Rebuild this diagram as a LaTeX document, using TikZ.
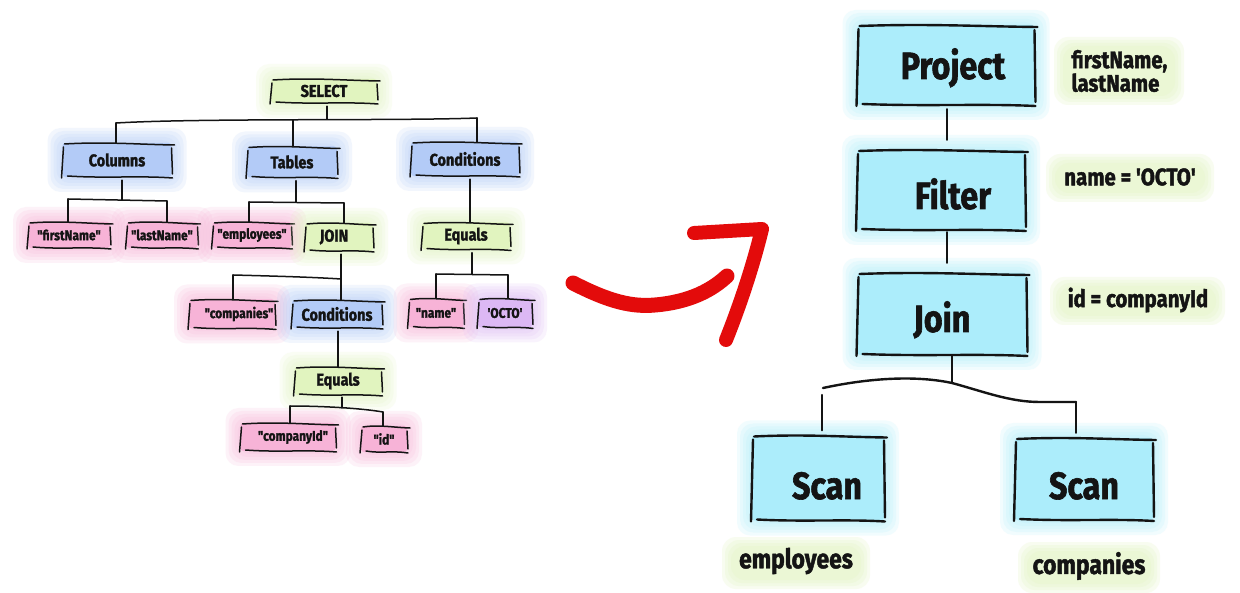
\documentclass[tikz,border=0pt]{standalone}
\usepackage{fontspec}
\newfontfamily\hand{Fira Sans}[FakeStretch=0.85, BoldFeatures={FakeBold=1.6}]
\usetikzlibrary{calc}
\definecolor{blueF}{HTML}{B3CBF7}
\definecolor{pinkF}{HTML}{F7B3D7}
\definecolor{greenF}{HTML}{E1F4BF}
\definecolor{purpF}{HTML}{DCB8F4}
\definecolor{cyanF}{HTML}{ACEDFB}
\definecolor{inkC}{HTML}{141414}
\definecolor{redA}{HTML}{E30B0B}
\tikzset{
 lt/.style={font=\hand\bfseries\fontsize{17}{19}\selectfont, text=inkC},
 ls/.style={font=\hand\bfseries\fontsize{14}{16}\selectfont, text=inkC},
 rt/.style={font=\hand\bfseries\fontsize{38}{42}\selectfont, text=inkC},
 side/.style={font=\hand\bfseries\fontsize{24}{22}\selectfont, text=inkC},
 side2/.style={font=\hand\bfseries\fontsize{27}{30}\selectfont, text=inkC},
 skl/.style={draw=inkC, line width=1.5pt, line cap=round},
 arrowstroke/.style={draw=redA, line cap=round, line join=round},
}
\newcommand\glow[5]{%
 \foreach \ee in {15,12,9,6,3}{\fill[#1,opacity=0.16,rounded corners=13pt] ({#2-\ee},{#3-\ee}) rectangle ({#4+\ee},{#5+\ee});}%
 \fill[#1,rounded corners=3pt] (#2,#3) rectangle (#4,#5);}
\newcommand\lglow[5]{\foreach \ee in {10,7,4,1}{\fill[#1,opacity=0.22,rounded corners=14pt] ({#2-\ee},{#3-\ee}) rectangle ({#4+\ee},{#5+\ee});}}
\newcommand\low[2]{\raisebox{-#1pt}[0pt][0pt]{#2}}
\newcommand\bx[8]{%
 \pgfmathsetmacro\xa{#2-#4/2}\pgfmathsetmacro\xb{#2+#4/2}%
 \pgfmathsetmacro\ya{#3-#5/2}\pgfmathsetmacro\yb{#3+#5/2}%
 \glow{#6}{\xa}{\ya}{\xb}{\yb}%
 \node[#7,minimum width=#4,minimum height=#5,inner sep=0pt] (#1) at (#2,#3) {#8};%
 \draw[skl] (\xa+2,\ya+1) .. controls (\xa+#4*0.4,\ya-1.5) and (\xa+#4*0.7,\ya+1.5) .. (\xb+3,\ya+2);%
 \draw[skl] (\xa+5,\yb-1) .. controls (\xa+#4*0.4,\yb+1.5) and (\xa+#4*0.7,\yb-1.5) .. (\xb+1,\yb+1);%
 \draw[skl] (\xa+1,\ya+4) -- (\xa-1,\yb+1);%
 \draw[skl] (\xb,\ya+5) -- (\xb+1,\yb-3);%
}
\begin{document}
\begin{tikzpicture}[x=1pt,y=-1pt]
\useasboundingbox (0,0) rectangle (1240,593);
\fill[white] (0,0) rectangle (1240,593);

% ---------------- left tree ----------------
\bx{select}{324}{91}{106}{24}{greenF}{lt}{SELECT}
\bx{columns}{117}{160}{109}{34}{blueF}{lt}{Columns}
\bx{tables}{292}{162}{90}{31}{blueF}{lt}{Tables}
\bx{conds}{465}{159}{108}{34}{blueF}{lt}{Conditions}
\bx{fname}{69}{235}{82}{26}{pinkF}{ls}{"firstName"}
\bx{lname}{162}{235}{71}{26}{pinkF}{ls}{"lastName"}
\bx{emps}{252}{235}{79}{26}{pinkF}{ls}{"employees"}
\bx{join}{339}{237}{68}{28}{greenF}{lt}{\hspace*{-10pt}JOIN}
\bx{eq}{466}{236}{88}{27}{greenF}{lt}{Equals}
\bx{comps}{232}{314}{86}{29}{pinkF}{ls}{\hspace*{14pt}"companies"}
\bx{conds2}{337}{314}{90}{28}{blueF}{lt}{Conditions}
\bx{name}{436}{313}{55}{29}{pinkF}{ls}{"name"}
\bx{octo}{505}{313}{54}{29}{purpF}{ls}{'OCTO'}
\bx{eq2}{338}{381}{87}{28}{greenF}{lt}{Equals}
\bx{cid}{288}{437}{95}{28}{pinkF}{ls}{\hspace*{10pt}"companyId"}
\bx{idn}{384}{439}{46}{26}{pinkF}{ls}{"id"}

% connectors left
\coordinate (sj) at (327,119);
\coordinate (sL) at (116,123);
\coordinate (sM) at (293,120);
\coordinate (sR) at (477,118);
\draw[skl] ($(sj |- select.south)+(0,3)$) -- (sj);
\draw[skl] (sL) .. controls (200,118) and (400,121) .. (sR);
\draw[skl] (sL) -- (sL |- columns.north);
\draw[skl] (sM) -- (sM |- tables.north);
\draw[skl] (sR) -- (sR |- conds.north);

\coordinate (cj) at (122,200);
\coordinate (cL) at (68,199);
\coordinate (cR) at (167,201);
\draw[skl] ($(cj |- columns.south)+(0,3)$) -- (cj);
\draw[skl] (cL) -- (cR);
\draw[skl] (cL) -- (cL |- fname.north);
\draw[skl] (cR) -- (cR |- lname.north);

\coordinate (tj) at (296,202);
\coordinate (tL) at (249,202);
\coordinate (tR) at (344,203);
\draw[skl] ($(tj |- tables.south)+(0,3)$) -- (tj);
\draw[skl] (tL) -- (tR);
\draw[skl] (tL) -- (tL |- emps.north);
\draw[skl] (tR) -- (tR |- join.north);

\coordinate (kx) at (470,0);
\draw[skl] ($(kx |- conds.south)+(0,3)$) -- (kx |- eq.north);

\coordinate (ej) at (472,274);
\coordinate (eL) at (436,274);
\coordinate (eR) at (508,275);
\draw[skl] ($(ej |- eq.south)+(0,3)$) -- (ej);
\draw[skl] (eL) -- (eR);
\draw[skl] (eL) -- (eL |- name.north);
\draw[skl] (eR) -- (eR |- octo.north);

\coordinate (jL) at (233,275);
\coordinate (jR) at (341,279);
\draw[skl] ($(jR |- join.south)+(0,3)$) -- (jR);
\draw[skl] (jL) .. controls (270,276) and (310,277) .. (jR);
\draw[skl] (jL) -- (jL |- comps.north);
\draw[skl] (jR) -- (jR |- conds2.north);

\coordinate (mx) at (338,0);
\draw[skl] ($(mx |- conds2.south)+(0,3)$) -- (mx |- eq2.north);

\coordinate (qj) at (342,408);
\coordinate (qL) at (290,406);
\coordinate (qR) at (383,412);
\draw[skl] ($(qj |- eq2.south)+(0,2)$) -- (qj);
\draw[skl] (qL) .. controls (320,406) and (360,408) .. (qR);
\draw[skl] (qL) -- (qL |- cid.north);
\draw[skl] (qR) -- (qR |- idn.north);

% ---------------- red arrow ----------------
\coordinate (a1) at (573,283);
\coordinate (a2) at (655,305);
\coordinate (a3) at (727,276);
\coordinate (h1) at (694,233);
\coordinate (h2) at (762,229);
\coordinate (h3) at (726,340);
\draw[arrowstroke, line width=15pt] (a1) .. controls (610,302) and (632,307) .. (a2) .. controls (690,302) and (712,290) .. (a3);
\draw[arrowstroke, line width=14pt] (h1) -- (h2) .. controls (752,270) and (738,310) .. (h3);

% ---------------- right tree ----------------
\tikzset{skl/.style={draw=inkC, line width=2.4pt, line cap=round}}
\bx{project}{946}{65}{177}{80}{cyanF}{rt}{\hspace*{14pt}\low{14}{Project}}
\bx{filter}{941}{190}{168}{80}{cyanF}{rt}{\hspace*{24pt}\low{19}{Filter}}
\bx{joinr}{942}{314}{169}{82}{cyanF}{rt}{\low{18}{Join}}
\bx{scan1}{818}{478}{132}{85}{cyanF}{rt}{\hspace*{18pt}\low{21}{Scan}}
\bx{scan2}{1084}{479}{138}{82}{cyanF}{rt}{\low{20}{Scan}}

\coordinate (rx) at (947,0);
\draw[skl] ($(rx |- project.south)+(0,4)$) -- ($(rx |- filter.north)+(0,-10)$);
\draw[skl] ($(rx |- filter.south)+(0,2)$) -- ($(rx |- joinr.north)+(0,-10)$);
\coordinate (rj) at (952,383);
\coordinate (rL) at (823,388);
\coordinate (rR) at (1076,402);
\coordinate (rL2) at (822,395);
\draw[skl] ($(rj |- joinr.south)+(0,1)$) -- (rj);
\draw[skl] (rL) .. controls (860,380) and (910,374) .. (rj) .. controls (985,392) and (1010,402) .. (1040,402) -- (rR);
\draw[skl] (rL2) -- ($(rL2 |- scan1.north)+(0,-5)$);
\draw[skl] (rR) -- ($(rR |- scan2.north)+(0,-5)$);

% side labels
\lglow{greenF}{1064}{47}{1174}{95}
\node[side, align=left, anchor=west] (lab1) at (1068,71) {firstName,\\lastName};
\lglow{greenF}{1056}{164}{1204}{192}
\node[side] (lab2) at (1130,177) {name = 'OCTO'};
\lglow{greenF}{1060}{287}{1215}{315}
\node[side] (lab3) at (1138,300) {id = companyId};
\lglow{greenF}{732}{547}{860}{579}
\node[side2] (lab4) at (796,561) {employees};
\lglow{greenF}{1028}{552}{1150}{583}
\node[side2] (lab5) at (1089,566) {companies};
\end{tikzpicture}
\end{document}
